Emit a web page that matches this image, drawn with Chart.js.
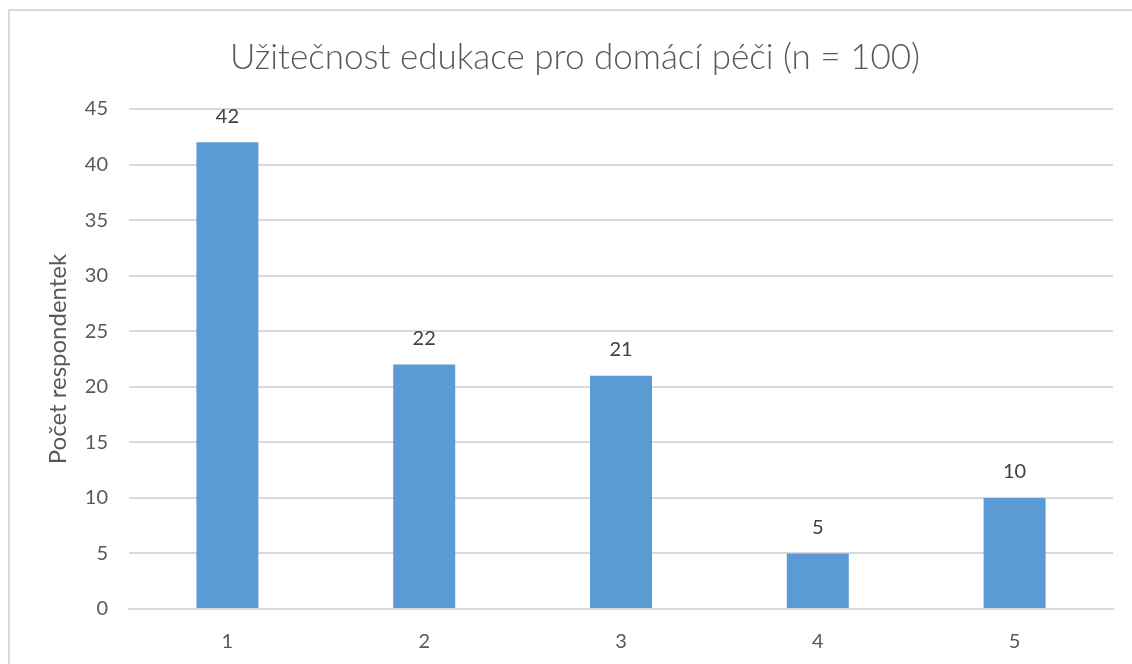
<!DOCTYPE html>
<html>
<head>
<meta charset="utf-8">
<script src="https://cdn.jsdelivr.net/npm/chart.js@4/dist/chart.umd.min.js"></script>
<style>
  html, body { margin: 0; padding: 0; background: #fff; overflow: hidden; }
  #wrap { position: relative; width: 1132px; height: 664px; }
  #frame { position: absolute; left: 8px; top: 9px; width: 1200px; height: 700px; border: 2px solid #d9d9d9; box-sizing: border-box; }
  canvas { position: absolute; left: 0; top: 0; }
</style>
</head>
<body>
<div id="wrap">
  <div id="frame"></div>
  <canvas id="chart" width="1132" height="664"></canvas>
</div>
<script>
const categories = ['1', '2', '3', '4', '5'];
const counts = [42, 22, 21, 5, 10];
const titleText = 'Užitečnost edukace pro domácí péči (n = 100)';
const yTitle = 'Počet respondentek';

const textColor = '#595959';
const fontFamily = 'Lato, "Open Sans", sans-serif';

// title is centred on the whole chart frame, not on the canvas minus padding
const frameTitle = {
    id: 'frameTitle',
    afterDraw(chart) {
        const ctx = chart.ctx;
        ctx.save();
        ctx.fillStyle = textColor;
        ctx.font = '300 35px ' + fontFamily;
        ctx.textAlign = 'center';
        ctx.textBaseline = 'middle';
        ctx.fillText(titleText, 575, 58);
        ctx.restore();
    },
};

const valueLabels = {
    id: 'valueLabels',
    afterDatasetsDraw(chart) {
        const ctx = chart.ctx;
        const meta = chart.getDatasetMeta(0);
        ctx.save();
        ctx.fillStyle = '#404040';
        ctx.font = '20px ' + fontFamily;
        ctx.textAlign = 'center';
        ctx.textBaseline = 'middle';
        meta.data.forEach((bar, i) => {
            ctx.fillText(String(counts[i]), bar.x, bar.y - 26);
        });
        ctx.restore();
    },
};

new Chart(document.getElementById('chart'), {
    type: 'bar',
    data: {
        labels: categories,
        datasets: [{
            data: counts,
            backgroundColor: '#5b9bd5',
            borderWidth: 0,
            categoryPercentage: 1,
            barPercentage: 0.315,
        }],
    },
    options: {
        responsive: false,
        animation: false,
        layout: { padding: { left: 0, right: 19, top: 109, bottom: 0 } },
        plugins: {
            legend: { display: false },
            tooltip: { enabled: false },
            title: { display: false },
        },
        scales: {
            x: {
                grid: { display: false },
                border: { color: '#d9d9d9', width: 2 },
                ticks: { color: textColor, font: { family: fontFamily, size: 20 }, padding: 13 },
                afterFit(scale) { scale.height = 55; },
            },
            y: {
                min: 0,
                max: 45,
                ticks: { stepSize: 5, color: textColor, font: { family: fontFamily, size: 20 }, padding: 21 },
                grid: { color: '#d9d9d9', lineWidth: 2, drawTicks: false },
                border: { display: false },
                title: {
                    display: true,
                    text: yTitle,
                    color: textColor,
                    font: { family: fontFamily, size: 24 },
                    padding: { top: 44, bottom: 0 },
                },
                afterFit(scale) { scale.width = 129; },
            },
        },
    },
    plugins: [valueLabels, frameTitle],
});
</script>
</body>
</html>
